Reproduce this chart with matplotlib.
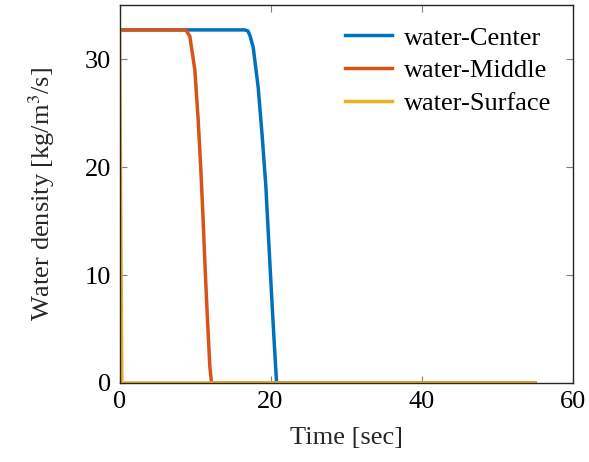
import matplotlib.pyplot as plt

# time [s] and water density [kg/m^3/s]
t_center = [0, 16.6, 17.0, 17.26, 17.7, 18.36, 18.9, 19.38, 19.73, 20.08, 20.44, 20.8, 55]
d_center = [32.7, 32.7, 32.6, 32.2, 31.1, 27.4, 22.8, 18.2, 13.5, 8.9, 4.3, 0.0, 0.0]

t_middle = [0, 8.65, 8.87, 9.31, 9.97, 10.41, 10.77, 11.07, 11.34, 11.65, 11.96, 12.18, 55]
d_middle = [32.7, 32.7, 32.6, 32.1, 29.0, 24.4, 19.7, 15.1, 10.5, 5.8, 1.5, 0.0, 0.0]

t_surface = [0, 0.3, 55]
d_surface = [32.7, 0.0, 0.0]

labels = ['water-Center', 'water-Middle', 'water-Surface']
colors = ['#0072BD', '#D95319', '#EDB120']

plt.rcParams['font.family'] = ['Liberation Serif', 'DejaVu Serif']
plt.rcParams['mathtext.fontset'] = 'stix'
plt.rcParams['font.size'] = 19

fig = plt.figure(figsize=(5.89, 4.62), dpi=100)
ax = fig.add_axes([0.203, 0.171, 0.769, 0.818])

ax.plot(t_center, d_center, color=colors[0], lw=2.5, label=labels[0])
ax.plot(t_middle, d_middle, color=colors[1], lw=2.5, label=labels[1])
ax.plot(t_surface, d_surface, color=colors[2], lw=2.5, label=labels[2])

ax.set_xlim(0, 60)
ax.set_ylim(0, 35)
ax.set_xticks([0, 20, 40, 60])
ax.set_yticks([0, 10, 20, 30])
ax.tick_params(direction='in', length=5, width=0.8, color='#808080',
               top=True, right=True, labelsize=19, pad=6)
for s in ax.spines.values():
    s.set_linewidth(1.0)
    s.set_color('#262626')

ax.set_xlabel('Time [sec]', color='#262626', fontsize=19, labelpad=10)
ax.set_ylabel(r'Water density [kg/m$^3$/s]', color='#262626', fontsize=19, labelpad=20)

ax.legend(loc='upper right', frameon=False, fontsize=19, handlelength=1.8,
          handletextpad=0.45, labelspacing=0.35, borderaxespad=0.4)

fig.savefig('out.png', dpi=100)
